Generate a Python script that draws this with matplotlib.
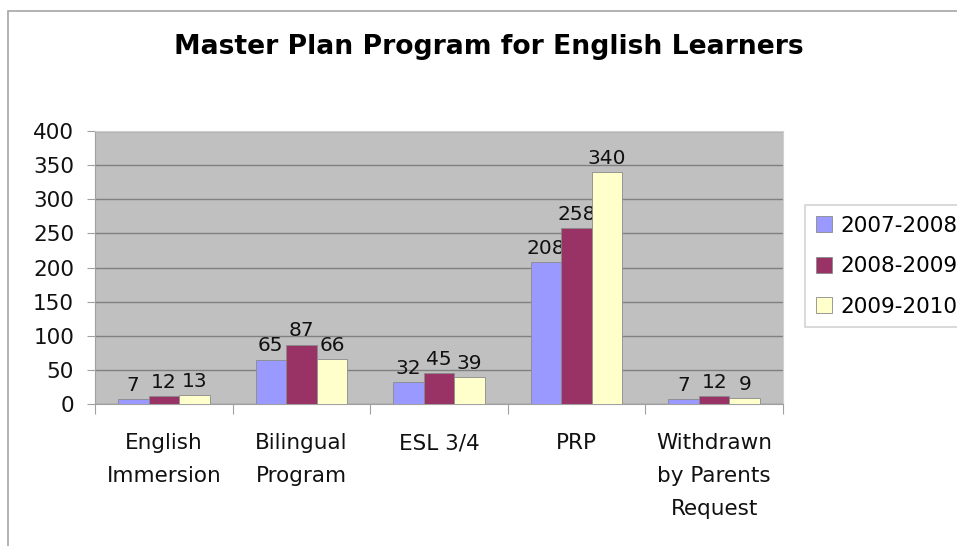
import numpy as np
import matplotlib.pyplot as plt
from matplotlib.patches import Rectangle

categories = ['English\nImmersion', 'Bilingual\nProgram', 'ESL 3/4', 'PRP',
              'Withdrawn\nby Parents\nRequest']
years = ['2007-2008', '2008-2009', '2009-2010']
v_2007 = [7, 65, 32, 208, 7]
v_2008 = [12, 87, 45, 258, 12]
v_2009 = [13, 66, 39, 340, 9]
colors = ['#9999FF', '#993366', '#FFFFCC']

plt.rcParams['font.family'] = ['DejaVu Sans']

fig = plt.figure(figsize=(9.57, 5.46), dpi=100)
ax = fig.add_axes([95 / 957, 1 - 404 / 546, (783 - 95) / 957, (404 - 131) / 546])

# outer chart border (top and left visible)
fig.patches.append(Rectangle((8 / 957, -0.1), 1.2, 1 - 11 / 546 + 0.1,
                             transform=fig.transFigure, fill=False,
                             edgecolor='#a6a6a6', lw=1.2))

x = np.arange(len(categories))
w = 2 / 9
series = [v_2007, v_2008, v_2009]
for i, (vals, c, lab) in enumerate(zip(series, colors, years)):
    bars = ax.bar(x + (i - 1) * w, vals, w, color=c, edgecolor='#8a8a8a',
                  linewidth=0.6, label=lab, zorder=3)
    ax.bar_label(bars, padding=3, fontsize=14.5, color='#111111')

ax.set_facecolor('#C0C0C0')
ax.set_xlim(-0.5, len(categories) - 0.5)
ax.set_ylim(0, 400)
ax.set_yticks(np.arange(0, 401, 50))
ax.yaxis.grid(True, color='#808080', lw=1, zorder=0)
ax.set_axisbelow(True)

ax.set_xticks(np.arange(-0.5, len(categories)), labels=[''] * (len(categories) + 1))
ax.set_xticks(x, labels=categories, minor=True)
ax.tick_params(axis='x', which='major', length=7, color='#a0a0a0')
ax.tick_params(axis='x', which='minor', length=0, pad=21, labelsize=15.5,
               labelcolor='#111111')
for t in ax.get_xticklabels(minor=True):
    t.set_linespacing(1.8)
ax.tick_params(axis='y', length=6, color='#a0a0a0', labelsize=15.5,
               labelcolor='#111111', pad=9)
for s in ax.spines.values():
    s.set_color('#a0a0a0')
ax.spines['top'].set_color('#d0d0d0')
ax.spines['right'].set_color('#d0d0d0')

fig.text(489 / 957, 1 - 47 / 546, 'Master Plan Program for English Learners',
         ha='center', va='center', fontsize=19.2, fontweight='bold')

leg = ax.legend(loc='upper left', bbox_to_anchor=(805 / 957, 1 - 205 / 546),
                bbox_transform=fig.transFigure, fontsize=15.5, frameon=True,
                fancybox=False, borderpad=0.5, labelspacing=0.95,
                handlelength=0.75, handleheight=0.75, handletextpad=0.4,
                borderaxespad=0)
leg.get_frame().set_edgecolor('#c8c8c8')
leg.get_frame().set_linewidth(1.2)

fig.savefig('out.png', dpi=100)
